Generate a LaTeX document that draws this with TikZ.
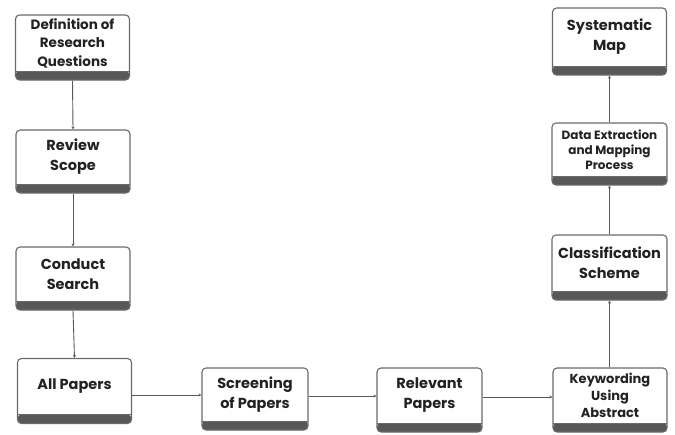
\documentclass[tikz,border=0pt]{standalone}
\usepackage{fontspec}
\setmainfont{Poppins}
\usetikzlibrary{arrows.meta}
\definecolor{edge}{HTML}{6A6A6A}
\definecolor{band}{HTML}{585858}
\definecolor{txt}{HTML}{222222}
\tikzset{
  pbox/.style={draw=edge, line width=1.1pt, fill=white, rounded corners=4pt,
    inner sep=0pt, minimum width=#1,
    path picture={\fill[band] (path picture bounding box.south west) rectangle ([yshift=9pt]path picture bounding box.south east);
      \draw[edge,line width=0.6pt] ([yshift=9pt]path picture bounding box.south west) -- ([yshift=9pt]path picture bounding box.south east);}},
  pbox/.default=114pt,
  ptext/.style={text=txt, font=\bfseries\fontsize{14.5}{20}\selectfont, align=center, inner sep=0pt},
  conn/.style={draw=band, line width=0.9pt, -{Stealth[length=3pt,width=3pt]}}
}
\begin{document}
\begin{tikzpicture}[x=1pt,y=-1pt]
\useasboundingbox[fill=white] (0,0) rectangle (675,434);
% boxes
\node[pbox, minimum height=65pt] (def) at (72.5,47.5) {};
\node[pbox, minimum height=63pt] (rev) at (73,161.5) {};
\node[pbox, minimum height=63pt] (con) at (73,278.5) {};
\node[pbox, minimum height=65pt] (all) at (74.5,391) {};
\node[pbox=106pt, minimum height=62pt] (scr) at (255,399) {};
\node[pbox=105pt, minimum height=64pt] (rel) at (429.5,400) {};
\node[pbox, minimum height=64pt] (key) at (610,400) {};
\node[pbox=115pt, minimum height=65pt] (cls) at (609.5,267.5) {};
\node[pbox=115pt, minimum height=62pt] (dat) at (609.5,154) {};
\node[pbox=114pt, minimum height=67pt] (sys) at (609.5,41.5) {};
% texts
\node[ptext, font=\bfseries\fontsize{13.5}{18.5}\selectfont] (tdef) at ([yshift=4.5pt]def.center) {Definition of\\Research\\Questions};
\node[ptext] (trev) at ([yshift=4.5pt]rev.center) {Review\\Scope};
\node[ptext] (tcon) at ([yshift=4.5pt]con.center) {Conduct\\Search};
\node[ptext] (tall) at ([yshift=4.5pt]all.center) {All Papers};
\node[ptext] (tscr) at ([yshift=4.5pt]scr.center) {Screening\\of Papers};
\node[ptext] (trel) at ([yshift=4.5pt]rel.center) {Relevant\\Papers};
\node[ptext, font=\bfseries\fontsize{13}{17}\selectfont] (tkey) at ([yshift=4.5pt]key.center) {Keywording\\Using\\Abstract};
\node[ptext] (tcls) at ([yshift=4.5pt]cls.center) {Classification\\Scheme};
\node[ptext, font=\bfseries\fontsize{12}{15}\selectfont] (tdat) at ([yshift=4.5pt]dat.center) {Data Extraction\\and Mapping\\Process};
\node[ptext] (tsys) at ([yshift=4.5pt]sys.center) {Systematic\\Map};
% connectors
\draw[conn] (def.south) -- (rev.north);
\draw[conn] (rev.south) -- (con.north);
\draw[conn] (con.south) -- (all.north);
\draw[conn] ([yshift=-4pt]all.east) -- ([yshift=-4pt]all.east -| scr.west);
\draw[conn] ([yshift=3pt]scr.east) -- ([yshift=3pt]scr.east -| rel.west);
\draw[conn] ([yshift=3pt]rel.east) -- ([yshift=3pt]rel.east -| key.west);
\draw[conn] (key.north -| cls.south) -- (cls.south);
\draw[conn] (cls.north) -- (cls.north |- dat.south);
\draw[conn] (dat.north) -- (sys.south);
\end{tikzpicture}
\end{document}
